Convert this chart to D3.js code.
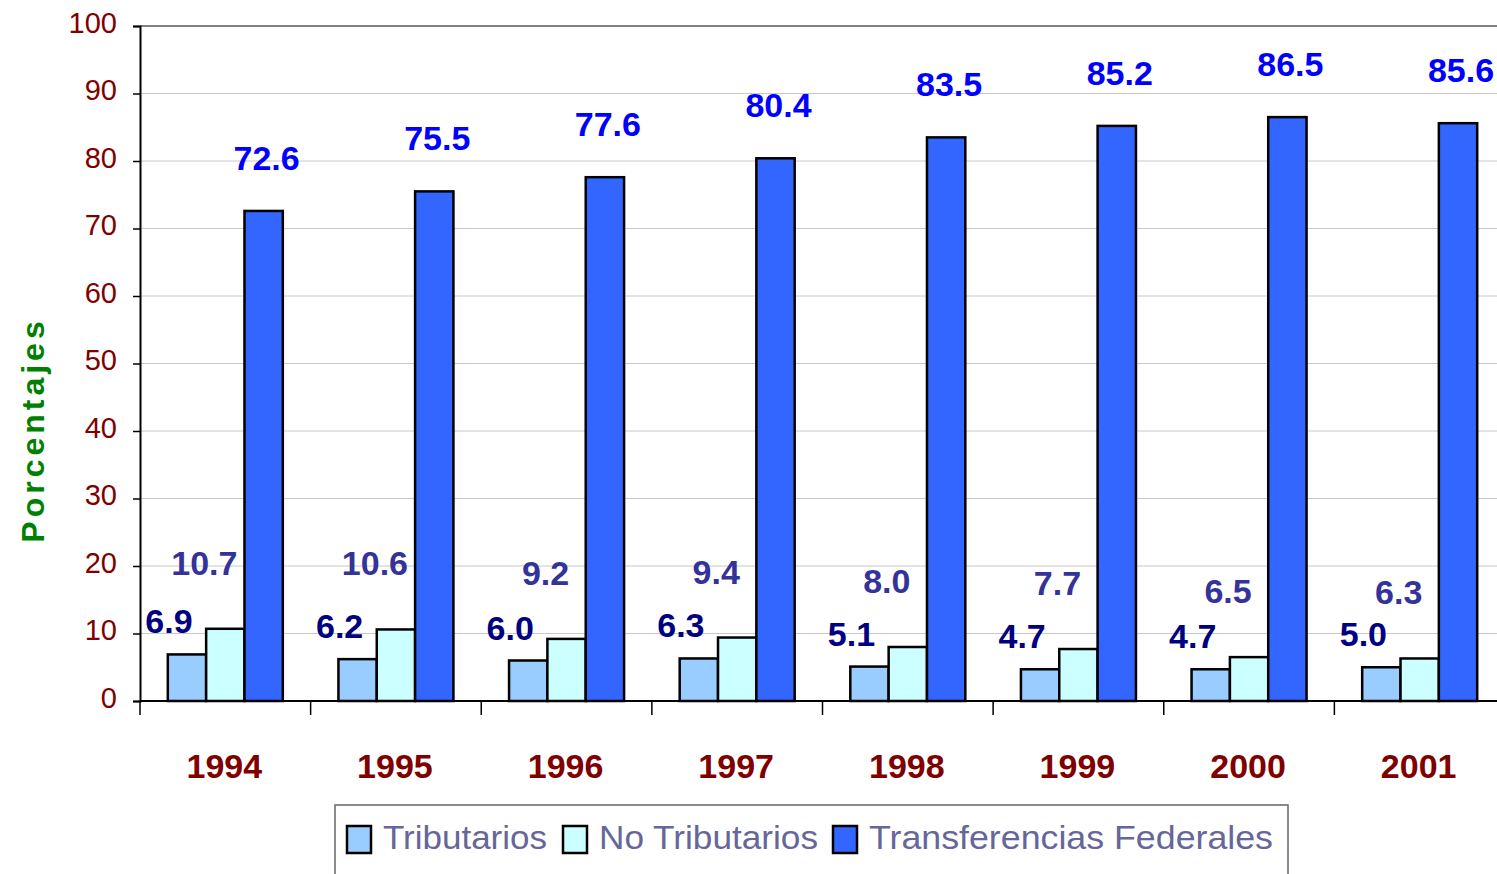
<!DOCTYPE html>
<html>
<head>
<meta charset="utf-8">
<script src="https://cdn.jsdelivr.net/npm/d3@7"></script>
<style>
  body { margin: 0; background: #fff; }
  svg { display: block; font-family: "Liberation Sans", Arial, sans-serif; }
</style>
</head>
<body>
<svg id="chart" width="1497" height="874"></svg>
<script>
// data
const years = ['1994', '1995', '1996', '1997', '1998', '1999', '2000', '2001'];
const seriesNames = ['Tributarios', 'No Tributarios', 'Transferencias Federales'];
const tributarios = [6.9, 6.2, 6.0, 6.3, 5.1, 4.7, 4.7, 5.0];
const noTributarios = [10.7, 10.6, 9.2, 9.4, 8.0, 7.7, 6.5, 6.3];
const transferencias = [72.6, 75.5, 77.6, 80.4, 83.5, 85.2, 86.5, 85.6];
const yTicks = [0, 10, 20, 30, 40, 50, 60, 70, 80, 90, 100];

const fills = ['#99ccff', '#ccffff', '#3366ff'];
const labelColors = ['#000080', '#333399', '#0000ff'];
// label nudges per series (pixels from bar top-centre)
const labelDx = [-18, -21, 3];
const labelDy = [-33, -66, -53];

const svg = d3.select('#chart');

const x0 = d3.scaleBand().domain(years).range([140, 1505])
    .paddingInner(0.326).paddingOuter(0.163);
const x1 = d3.scaleBand().domain(d3.range(3)).range([0, x0.bandwidth()]);
const y = d3.scaleLinear().domain([0, 100]).range([701, 26]);

const rows = years.map((yr, i) => ({
    year: yr,
    values: [tributarios[i], noTributarios[i], transferencias[i]]
}));

// gridlines
svg.append('g')
    .selectAll('line')
    .data(yTicks.filter(t => t > 0 && t < 100))
    .enter().append('line')
    .attr('x1', 140).attr('x2', 1497)
    .attr('y1', d => y(d)).attr('y2', d => y(d))
    .attr('stroke', '#c8c8c8').attr('stroke-width', 1);

// top border of plot area
svg.append('line')
    .attr('x1', 140).attr('x2', 1497)
    .attr('y1', y(100)).attr('y2', y(100))
    .attr('stroke', '#808080').attr('stroke-width', 2);

// y axis
const yAxis = svg.append('g')
    .attr('transform', 'translate(140,0)')
    .call(d3.axisLeft(y).tickValues(yTicks).tickSize(7).tickPadding(16).tickFormat(d3.format('d')));
yAxis.select('.domain').attr('stroke', '#000').attr('stroke-width', 2);
yAxis.selectAll('.tick line').attr('stroke', '#000').attr('stroke-width', 1.5);
yAxis.selectAll('.tick text')
    .attr('fill', '#800000')
    .style('font-size', '29px')
    .attr('dy', '0.22em');

// bars
const groups = svg.append('g')
    .selectAll('g')
    .data(rows)
    .enter().append('g')
    .attr('transform', d => `translate(${x0(d.year)},0)`);

groups.selectAll('rect')
    .data(d => d.values.map((v, k) => ({ v, k })))
    .enter().append('rect')
    .attr('x', d => x1(d.k))
    .attr('y', d => y(d.v))
    .attr('width', x1.bandwidth())
    .attr('height', d => y(0) - y(d.v))
    .attr('fill', d => fills[d.k])
    .attr('stroke', '#000')
    .attr('stroke-width', 2.5);

// value labels
groups.selectAll('text')
    .data(d => d.values.map((v, k) => ({ v, k })))
    .enter().append('text')
    .attr('x', d => x1(d.k) + x1.bandwidth() / 2 + labelDx[d.k])
    .attr('y', d => y(d.v) + labelDy[d.k])
    .attr('text-anchor', 'middle')
    .attr('dominant-baseline', 'central')
    .attr('fill', d => labelColors[d.k])
    .style('font-size', '34px')
    .style('font-weight', 'bold')
    .text(d => d.v.toFixed(1));

// x axis
const xAxis = svg.append('g')
    .attr('transform', `translate(0,${y(0)})`);
xAxis.append('line')
    .attr('x1', 140).attr('x2', 1497)
    .attr('stroke', '#000').attr('stroke-width', 2);
xAxis.selectAll('line.tk')
    .data(years)
    .enter().append('line')
    .attr('class', 'tk')
    .attr('x1', d => x0(d) - x0.step() * 0.163)
    .attr('x2', d => x0(d) - x0.step() * 0.163)
    .attr('y1', 0).attr('y2', 14)
    .attr('stroke', '#000').attr('stroke-width', 1.5);
xAxis.selectAll('text')
    .data(years)
    .enter().append('text')
    .attr('x', d => x0(d) + x0.bandwidth() / 2 - 1)
    .attr('y', 77)
    .attr('text-anchor', 'middle')
    .attr('fill', '#800000')
    .style('font-size', '34px')
    .style('font-weight', 'bold')
    .text(d => d);

// y title
svg.append('text')
    .attr('transform', 'translate(44,430) rotate(-90)')
    .attr('text-anchor', 'middle')
    .attr('fill', '#008000')
    .style('font-size', '32px')
    .style('font-weight', 'bold')
    .style('letter-spacing', '4px')
    .text('Porcentajes');

// legend
const legend = svg.append('g');
legend.append('rect')
    .attr('x', 335).attr('y', 805)
    .attr('width', 953).attr('height', 80)
    .attr('fill', '#fff').attr('stroke', '#666').attr('stroke-width', 1.5);

const swatchX = [347, 563, 833];
const textLen = [164, 219, 404];
seriesNames.forEach((name, k) => {
    legend.append('rect')
        .attr('x', swatchX[k]).attr('y', 826)
        .attr('width', 24).attr('height', 27)
        .attr('fill', fills[k])
        .attr('stroke', '#000').attr('stroke-width', 2.5);
    legend.append('text')
        .attr('x', swatchX[k] + 36).attr('y', 849)
        .attr('fill', '#666699')
        .style('font-size', '34px')
        .attr('textLength', textLen[k])
        .attr('lengthAdjust', 'spacingAndGlyphs')
        .text(name);
});
</script>
</body>
</html>
